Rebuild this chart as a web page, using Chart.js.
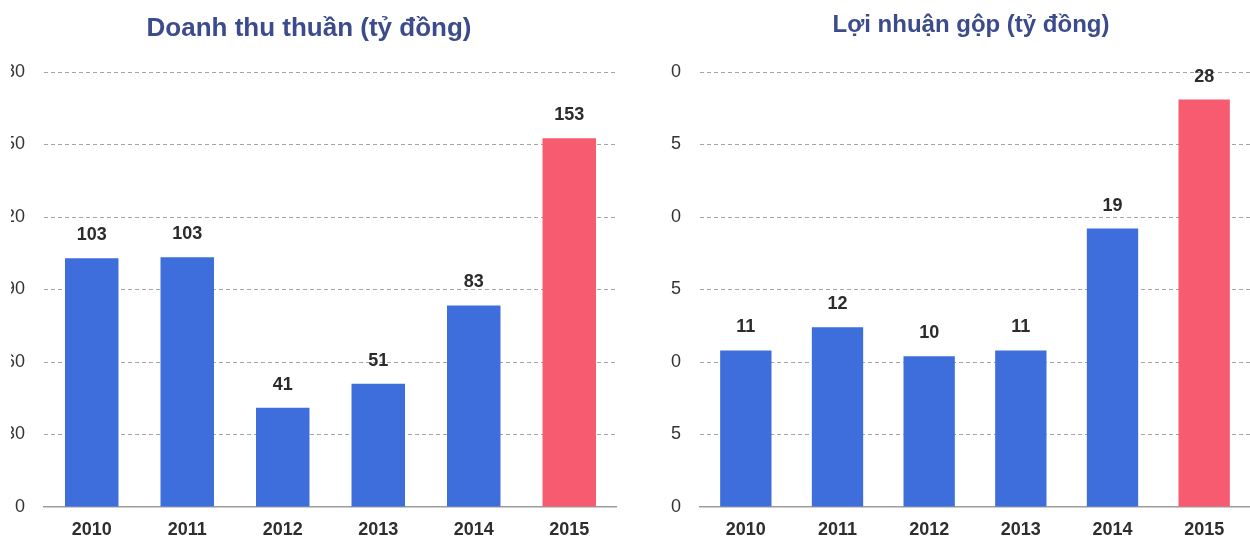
<!DOCTYPE html>
<html>
<head>
<meta charset="utf-8">
<script src="https://cdn.jsdelivr.net/npm/chart.js@4/dist/chart.umd.min.js"></script>
<style>
  body { margin: 0; background: #fff; width: 1250px; height: 544px; overflow: hidden; position: relative; }
  .wrap { position: absolute; top: 0; height: 544px; overflow: hidden; }
  .wrap canvas { position: absolute; top: 0; }
  .title { position: absolute; font-family: "Liberation Sans", Arial, sans-serif; font-weight: bold; color: #3b4b8c; white-space: nowrap; transform: translateX(-50%); line-height: 1.15; }
</style>
</head>
<body>
<div class="wrap" style="left:11px; width:637px;"><canvas id="revenueChart" width="629" height="544" style="left:-23px;"></canvas></div>
<div class="wrap" style="left:670px; width:580px;"><canvas id="profitChart" width="610" height="544" style="left:-30px;"></canvas></div>
<div class="title" style="left:309px; top:13px; font-size:26px;">Doanh thu thuần (tỷ đồng)</div>
<div class="title" style="left:971px; top:10px; font-size:24px;">Lợi nhuận gộp (tỷ đồng)</div>
<script>
// dữ liệu
const years = ['2010', '2011', '2012', '2013', '2014', '2015'];
const revenue = [102.9, 103.3, 41.1, 51.0, 83.4, 152.6];
const grossProfit = [10.8, 12.4, 10.4, 10.8, 19.2, 28.1];
const revenueTicks = [0, 30, 60, 90, 120, 150, 180];
const profitTicks = [0, 5, 10, 15, 20, 25, 30];

const blue = '#3d6edb';
const red = '#f65b6f';
const barColors = years.map((y, i) => i === years.length - 1 ? red : blue);

// vẽ số trên đầu cột
const valueLabels = {
    id: 'valueLabels',
    afterDatasetsDraw(chart) {
        const ctx = chart.ctx;
        const meta = chart.getDatasetMeta(0);
        const data = chart.data.datasets[0].data;
        ctx.save();
        ctx.font = 'bold 18px "Liberation Sans", Arial, sans-serif';
        ctx.fillStyle = '#2b2b2b';
        ctx.textAlign = 'center';
        ctx.textBaseline = 'middle';
        meta.data.forEach((bar, i) => {
            ctx.fillText(Math.round(data[i]), bar.x, bar.y - 23);
        });
        ctx.restore();
    }
};

function makeChart(id, values, ticks, axisWidth) {
    const max = ticks[ticks.length - 1];
    return new Chart(document.getElementById(id), {
        type: 'bar',
        data: {
            labels: years,
            datasets: [{
                data: values,
                backgroundColor: barColors,
                categoryPercentage: 1,
                barPercentage: 0.56
            }]
        },
        options: {
            responsive: false,
            animation: false,
            devicePixelRatio: 1,
            layout: { padding: { top: 72, right: 0, bottom: 0, left: 0 } },
            plugins: { legend: { display: false }, tooltip: { enabled: false } },
            scales: {
                x: {
                    grid: { display: false, drawTicks: false },
                    border: { display: true, color: '#9c9c9c', width: 1.5 },
                    ticks: {
                        padding: 12,
                        color: '#2e2e2e',
                        font: { family: '"Liberation Sans", Arial, sans-serif', size: 18, weight: 'bold' }
                    },
                    afterFit: (s) => { s.height = 37; }
                },
                y: {
                    min: 0,
                    max: max,
                    afterBuildTicks: (s) => { s.ticks = ticks.map(v => ({ value: v })); },
                    grid: {
                        drawTicks: false,
                        color: (c) => c.tick && c.tick.value === 0 ? 'rgba(0,0,0,0)' : '#a5a5a5',
                        lineWidth: 1
                    },
                    border: {
                        display: false,
                        dash: (c) => c.tick && c.tick.value === 0 ? [] : [4, 3]
                    },
                    ticks: {
                        padding: 19,
                        color: '#333',
                        font: { family: '"Liberation Sans", Arial, sans-serif', size: 18 }
                    },
                    afterFit: (s) => { s.width = axisWidth; }
                }
            }
        },
        plugins: [valueLabels]
    });
}

makeChart('revenueChart', revenue, revenueTicks, 56);
makeChart('profitChart', grossProfit, profitTicks, 60);
</script>
</body>
</html>
